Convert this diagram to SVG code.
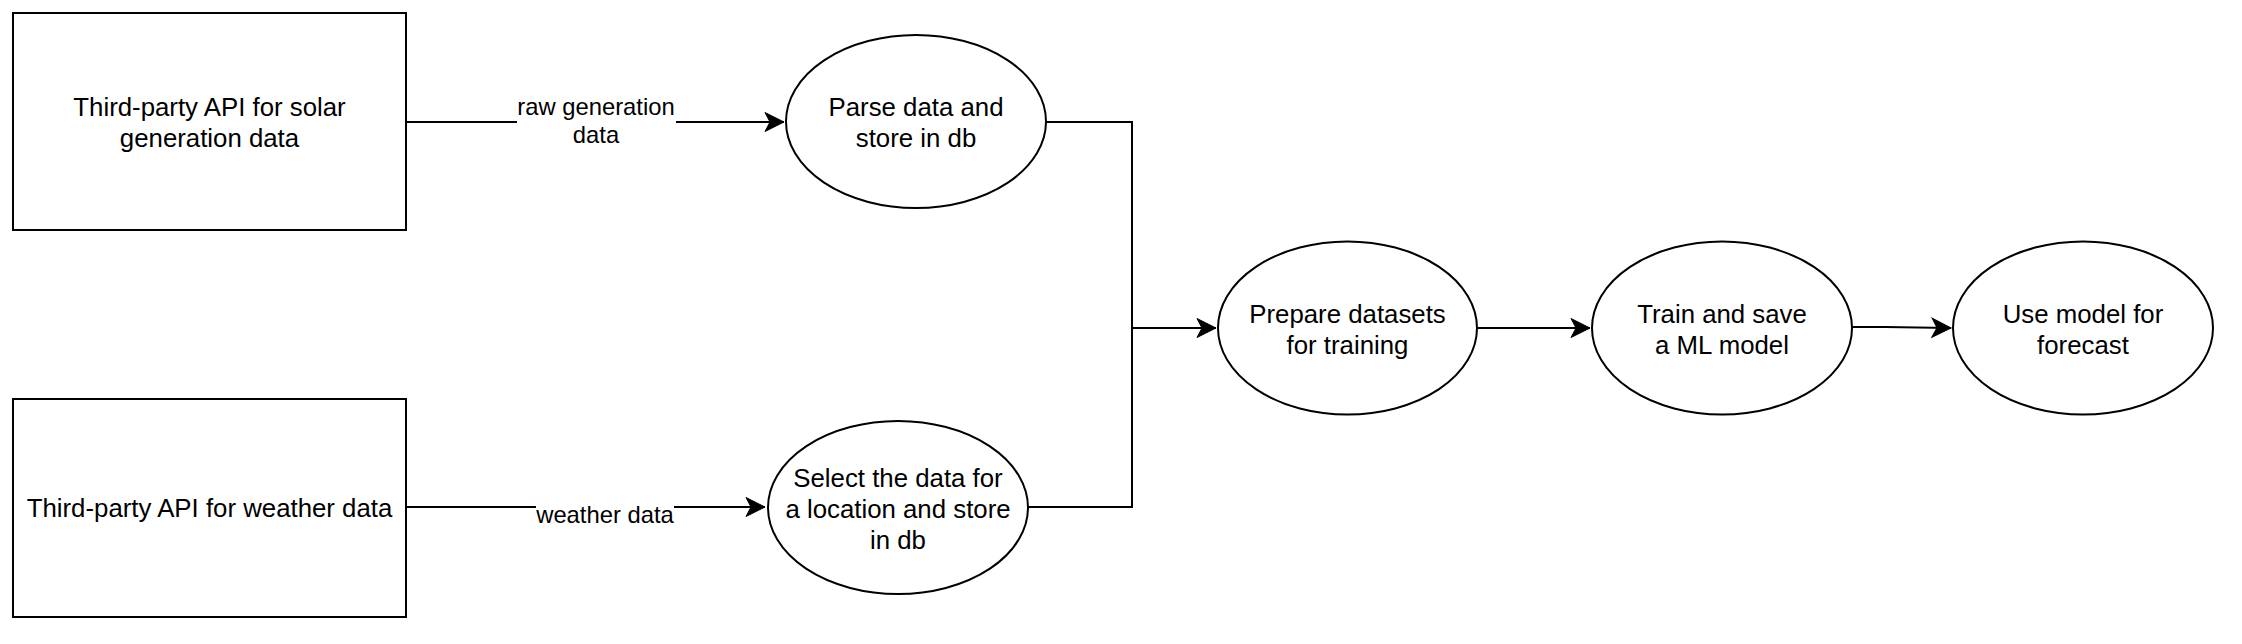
<svg xmlns="http://www.w3.org/2000/svg" width="2242" height="644" viewBox="0 0 2242 644">
<style>
.shape{fill:#fff;stroke:#000;stroke-width:2}
.t{font-family:"Liberation Sans",Arial,sans-serif;font-size:25.8px;fill:#000;text-anchor:middle}
.lbl{font-family:"Liberation Sans",Arial,sans-serif;font-size:23.8px;fill:#000;text-anchor:middle}
.edge{fill:none;stroke:#000;stroke-width:2}
</style>
<defs>
<marker id="arr" markerUnits="userSpaceOnUse" markerWidth="22" markerHeight="22" viewBox="-20 -11 22 22" refX="0" refY="0" orient="auto">
<path d="M0,0 L-19,-9.5 L-14,0 L-19,9.5 Z" fill="#000" stroke="#000" stroke-width="1"/>
</marker>
</defs>
<rect width="2242" height="644" fill="#fff"/>
<g id="connectors">
<path class="edge" d="M406,122 H784" marker-end="url(#arr)"/>
<rect x="517" y="94" width="159" height="56" fill="#fff"/>
<text class="lbl" x="596" y="115">raw generation</text>
<text class="lbl" x="596" y="143">data</text>
<path class="edge" d="M406,507 H765" marker-end="url(#arr)"/>
<rect x="536" y="500" width="138" height="28" fill="#fff"/>
<text class="lbl" x="605" y="523">weather data</text>
<path class="edge" d="M1046,122 H1132 V507 H1028"/>
<path class="edge" d="M1132,328 H1216" marker-end="url(#arr)"/>
<path class="edge" d="M1477,328 H1590" marker-end="url(#arr)"/>
<path class="edge" d="M1846,327 L1885,327 L1951,328" marker-end="url(#arr)"/>
</g>
<g id="node-solar-api">
<rect class="shape" x="13" y="13" width="393" height="217"/>
<text class="t" x="209.5" y="116">Third-party API for solar</text>
<text class="t" x="209.5" y="147">generation data</text>
</g>
<g id="node-weather-api">
<rect class="shape" x="13" y="399" width="393" height="218"/>
<text class="t" x="209.5" y="517">Third-party API for weather data</text>
</g>
<g id="node-parse">
<ellipse class="shape" cx="916" cy="121.5" rx="130" ry="86.5"/>
<text class="t" x="916" y="116">Parse data and</text>
<text class="t" x="916" y="147">store in db</text>
</g>
<g id="node-select">
<ellipse class="shape" cx="898" cy="507.5" rx="130" ry="86.5"/>
<text class="t" x="898" y="486.5">Select the data for</text>
<text class="t" x="898" y="517.5">a location and store</text>
<text class="t" x="898" y="548.5">in db</text>
</g>
<g id="node-prepare">
<ellipse class="shape" cx="1347.5" cy="328" rx="129.5" ry="86.5"/>
<text class="t" x="1347.5" y="322.5">Prepare datasets</text>
<text class="t" x="1347.5" y="353.5">for training</text>
</g>
<g id="node-train">
<ellipse class="shape" cx="1722" cy="328" rx="130" ry="86.5"/>
<text class="t" x="1722" y="322.5">Train and save</text>
<text class="t" x="1722" y="353.5">a ML model</text>
</g>
<g id="node-use">
<ellipse class="shape" cx="2083" cy="328" rx="130" ry="86.5"/>
<text class="t" x="2083" y="322.5">Use model for</text>
<text class="t" x="2083" y="353.5">forecast</text>
</g>
</svg>
